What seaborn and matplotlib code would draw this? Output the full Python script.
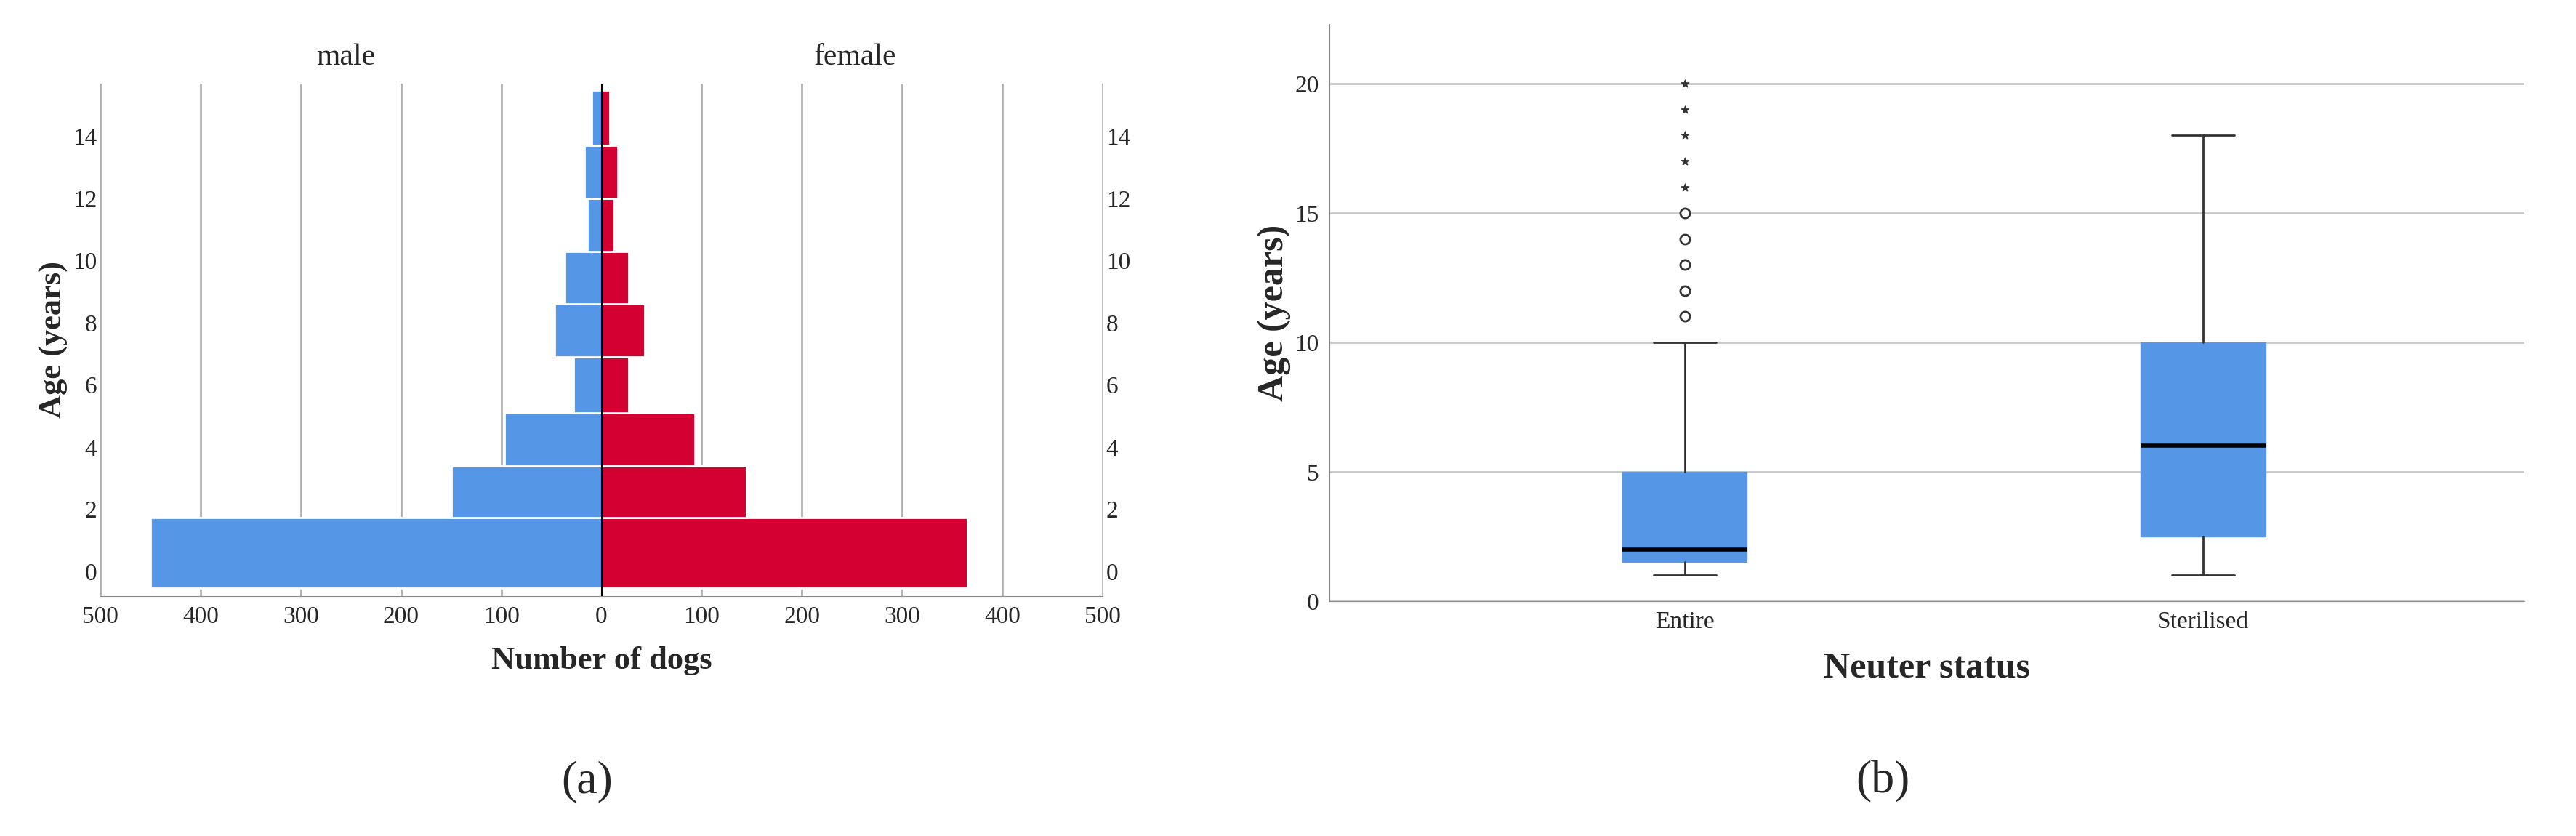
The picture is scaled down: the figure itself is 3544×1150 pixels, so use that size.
"""Dog age pyramid by sex and age by neuter status."""

import matplotlib

matplotlib.use("Agg")
import matplotlib.pyplot as plt
import numpy as np
import seaborn as sns

# Pyramid: bin edges in years and counts per bin
age_edges = [-0.54, 1.73, 3.4, 5.1, 6.9, 8.6, 10.3, 12.0, 13.7, 15.5]
male_counts = [450, 150, 97, 28, 47, 37, 14, 17, 10]
female_counts = [365, 145, 93, 27, 43, 27, 13, 16, 8]

# Box plot summary values (years)
neuter_groups = ["Entire", "Sterilised"]
whisker_low = [1, 1]
q1 = [1.5, 2.5]
medians = [2, 6]
q3 = [5, 10]
whisker_high = [10, 18]
outliers_circle = [[11, 12, 13, 14, 15], []]
outliers_star = [[16, 17, 18, 19, 20], []]

sns.set_style("white")
plt.rcParams["font.family"] = ["Liberation Serif", "DejaVu Serif"]

BLUE = "#5596e6"
RED = "#d50032"

fig = plt.figure(figsize=(35.44, 11.5), dpi=100)
ax1 = fig.add_axes([0.039, 0.287, 0.389, 0.613])
ax2 = fig.add_axes([0.516, 0.281, 0.464, 0.69])

# (a) pyramid
edges = np.array(age_edges)
heights = np.diff(edges)
ax1.barh(edges[:-1], -np.array(male_counts), height=heights, align="edge",
         color=BLUE, edgecolor="white", linewidth=2, zorder=2)
ax1.barh(edges[:-1], female_counts, height=heights, align="edge",
         color=RED, edgecolor="white", linewidth=2, zorder=2)
ax1.axvline(0, color="black", linewidth=1.5, zorder=3)
ax1.set_xlim(-500, 500)
ax1.set_ylim(-0.8, 15.7)
xt = np.arange(-500, 501, 100)
ax1.set_xticks(xt)
ax1.set_xticklabels([str(abs(v)) for v in xt], fontsize=24)
ax1.set_yticks(np.arange(0, 15, 2))
ax1.tick_params(axis="y", labelsize=24, labelright=True, right=True, length=0)
ax1.tick_params(axis="x", length=0, pad=10)
ax1.grid(axis="x", color="#b0b0b0", linewidth=2, zorder=0)
for s in ["top", "left", "right"]:
    ax1.spines[s].set_visible(False)
ax1.spines["bottom"].set_color("#888888")
ax1.set_xlabel("Number of dogs", fontsize=32, fontweight="bold", labelpad=18)
ax1.set_ylabel("Age (years)", fontsize=32, fontweight="bold")
ax1.text(-255, 16.1, "male", fontsize=30, ha="center", va="bottom")
ax1.text(253, 16.1, "female", fontsize=30, ha="center", va="bottom")

# (b) boxplot
stats = []
for i, name in enumerate(neuter_groups):
    stats.append({"label": name, "whislo": whisker_low[i], "q1": q1[i],
                  "med": medians[i], "q3": q3[i], "whishi": whisker_high[i],
                  "fliers": []})
ax2.bxp(stats, positions=[0, 1], widths=0.24, patch_artist=True,
        boxprops=dict(facecolor=BLUE, edgecolor=BLUE),
        medianprops=dict(color="black", linewidth=4),
        whiskerprops=dict(color="#333333", linewidth=2),
        capprops=dict(color="#333333", linewidth=2), capwidths=0.12,
        zorder=3)
for i in range(len(neuter_groups)):
    if outliers_circle[i]:
        ax2.scatter([i] * len(outliers_circle[i]), outliers_circle[i], s=90,
                    facecolor="white", edgecolor="#333333", linewidth=2, zorder=4)
    if outliers_star[i]:
        ax2.scatter([i] * len(outliers_star[i]), outliers_star[i], s=60,
                    marker="*", color="#333333", zorder=4)
ax2.set_xlim(-0.686, 1.62)
ax2.set_ylim(0, 22.3)
ax2.set_yticks([0, 5, 10, 15, 20])
ax2.set_xticks([0, 1])
ax2.set_xticklabels(neuter_groups)
ax2.tick_params(labelsize=24, length=0, pad=10)
ax2.grid(axis="y", color="#c8c8c8", linewidth=2, zorder=0)
for s in ["top", "right"]:
    ax2.spines[s].set_visible(False)
ax2.spines["left"].set_color("#888888")
ax2.spines["bottom"].set_color("#888888")
ax2.set_xlabel("Neuter status", fontsize=36, fontweight="bold", labelpad=18)
ax2.set_ylabel("Age (years)", fontsize=36, fontweight="bold")

fig.text(0.228, 0.065, "(a)", fontsize=46, ha="center", va="center")
fig.text(0.731, 0.065, "(b)", fontsize=46, ha="center", va="center")

fig.savefig("out.png", dpi=100)
